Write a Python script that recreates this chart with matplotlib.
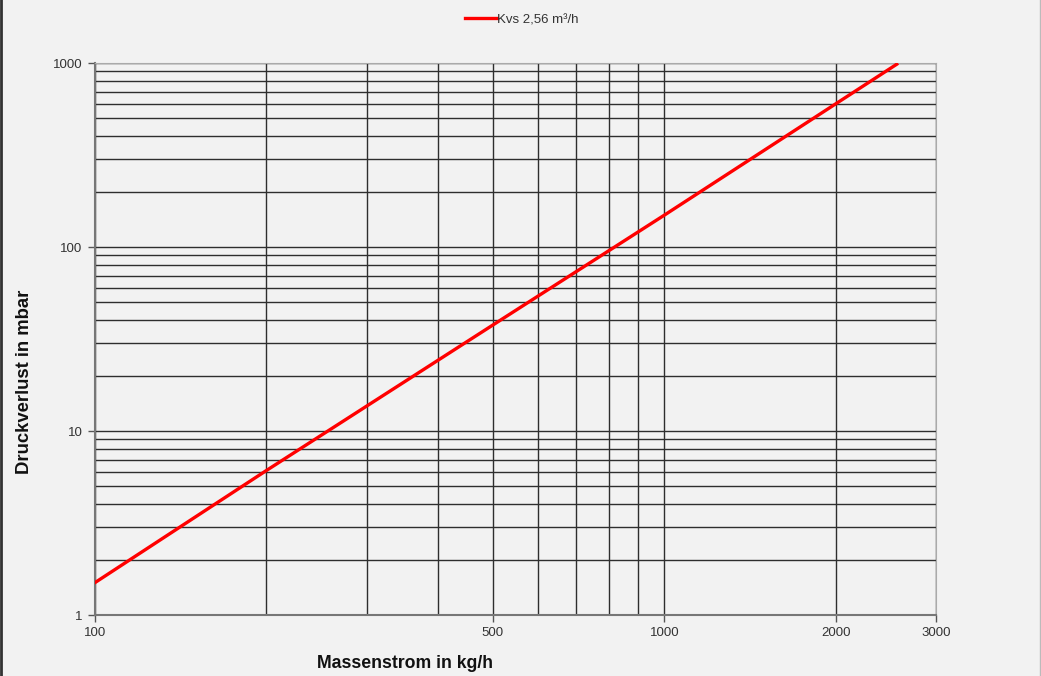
import numpy as np
import matplotlib.pyplot as plt
from matplotlib.ticker import FixedLocator, NullFormatter, FixedFormatter
from matplotlib.lines import Line2D

plt.rcParams["font.family"] = ["Liberation Sans", "DejaVu Sans"]

# data
massenstrom = [100, 200, 500, 1000, 2000, 2560]
druckverlust = [1.5, 6.1, 37.7, 149, 600, 985]
series_label = "Kvs 2,56 m³/h"

x_major = [100, 500, 1000, 2000, 3000]
x_minor = [200, 300, 400, 600, 700, 800, 900]
y_major = [1, 10, 100, 1000]
y_minor = [m * d for d in (1, 10, 100) for m in range(2, 10)]

bg = "#f2f2f2"
fig = plt.figure(figsize=(10.41, 6.76), dpi=100, facecolor=bg)
ax = fig.add_axes([95 / 1041, 1 - 615 / 676, (936 - 95) / 1041, (615 - 63) / 676])
ax.set_facecolor(bg)

ax.plot(massenstrom, druckverlust, color="#ff0000", lw=2.4, label=series_label,
        clip_on=True, zorder=3)

ax.set_xscale("log")
ax.set_yscale("log")
ax.set_xlim(100, 3000)
ax.set_ylim(1, 1000)

ax.xaxis.set_major_locator(FixedLocator(x_major))
ax.xaxis.set_major_formatter(FixedFormatter([str(v) for v in x_major]))
ax.xaxis.set_minor_locator(FixedLocator(x_minor))
ax.xaxis.set_minor_formatter(NullFormatter())
ax.yaxis.set_major_locator(FixedLocator(y_major))
ax.yaxis.set_major_formatter(FixedFormatter([str(v) for v in y_major]))
ax.yaxis.set_minor_locator(FixedLocator(y_minor))
ax.yaxis.set_minor_formatter(NullFormatter())

ax.grid(True, which="both", color="#2e2e2e", lw=1.0)
ax.tick_params(which="major", direction="out", length=5, width=1,
               color="#555555", labelsize=9.5, labelcolor="#333333", pad=4)
ax.tick_params(which="minor", length=0)

for s in ("top", "right"):
    ax.spines[s].set_color("#aaaaaa")
for s in ("left", "bottom"):
    ax.spines[s].set_color("#777777")
    ax.spines[s].set_linewidth(1.5)

ax.set_xlabel("Massenstrom in kg/h", fontsize=12.7, fontweight="bold", color="#111111")
ax.xaxis.set_label_coords((405 - 95) / (936 - 95), -(655 - 615) / (615 - 63), transform=ax.transAxes)
ax.set_ylabel("Druckverlust in mbar", fontsize=13.3, fontweight="bold", color="#111111")
ax.yaxis.set_label_coords(-(95 - 33) / (936 - 95), (615 - 382) / (615 - 63), transform=ax.transAxes)

fig.legend(loc="center", bbox_to_anchor=(522 / 1041, 1 - 20 / 676), frameon=False,
           fontsize=9.5, handlelength=2.4, handletextpad=0.05, labelcolor="#333333")

fig.add_artist(Line2D([0.001, 0.001], [0, 1], transform=fig.transFigure, color="#333333", lw=2))
fig.add_artist(Line2D([0.999, 0.999], [0, 1], transform=fig.transFigure, color="#bbbbbb", lw=1))

fig.savefig("out.png", dpi=100, facecolor=bg)
